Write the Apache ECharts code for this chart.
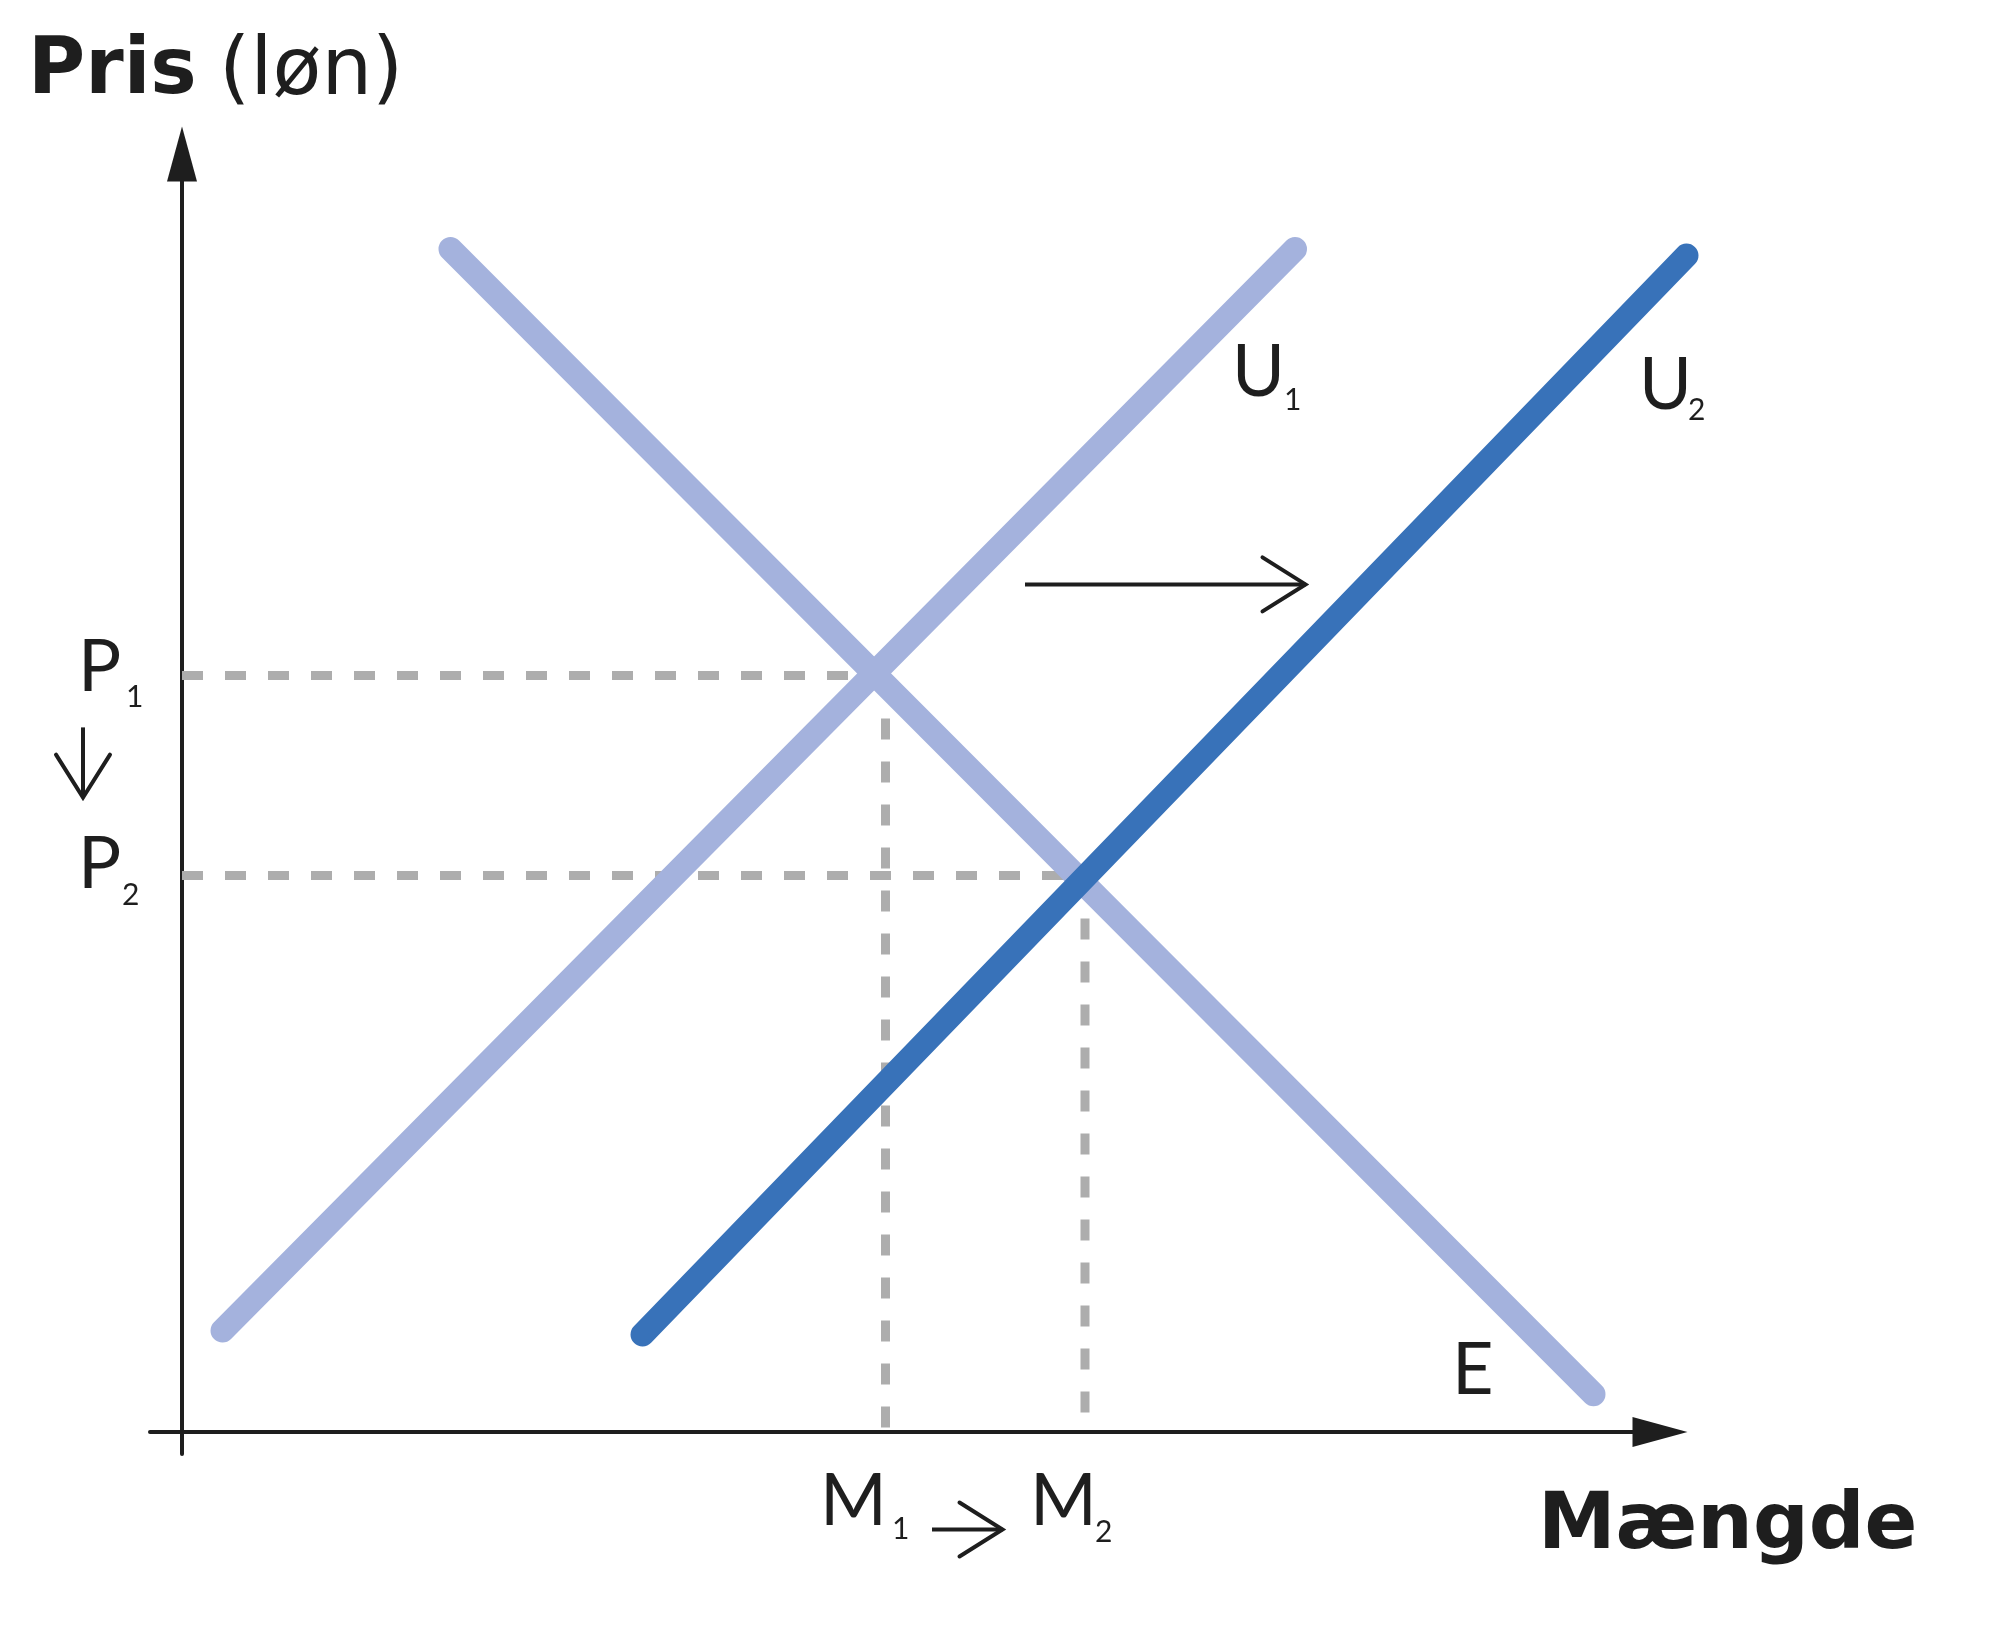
<!DOCTYPE html>
<html><head><meta charset="utf-8">
<script src="https://cdn.jsdelivr.net/npm/echarts@6/dist/echarts.min.js"></script>
<style>html,body{margin:0;padding:0;background:#fff}#c{width:2000px;height:1640px}</style>
</head><body><div id="c"></div>
<script>
// Curves (quantity, price) in arbitrary chart units
const demandE  = [[17.9, 91.0], [94.1, 2.9]];
const supplyU1 = [[2.7, 7.8], [74.2, 91.0]];
const supplyU2 = [[30.7, 7.5], [100.3, 90.5]];
// Equilibrium levels
const priceP1 = 58.2, priceP2 = 42.8;
const quantityM1 = 46.9, quantityM2 = 60.2;
// Annotation arrows [x0, y0, x1, y1]
const shiftArrows = [[56.2, 65.2, 74.9, 65.2], [-6.6, 54.2, -6.6, 48.8], [50.0, -7.5, 54.7, -7.5]];

const chart = echarts.init(document.getElementById('c'));
const ink = '#1e1e1e';
const light = '#a4b2dd', dark = '#3872b9', dash = '#adadad';
const dashStyle = {color: dash, width: 9, type: [21, 22], cap: 'butt'};
function dashSeries(data) {
  return {type: 'line', data: data, symbol: 'none', clip: false, silent: true, z: 1,
          lineStyle: dashStyle, animation: false};
}
function curveSeries(points, color, z) {
  return {type: 'custom', data: points, clip: false, silent: true, z: z, encode: {x: 0, y: 1},
    renderItem: function (params, api) {
      if (params.dataIndex !== 0) return null;
      const pts = points.map(function (p) { return api.coord(p); });
      return {type: 'polyline', shape: {points: pts},
              style: {stroke: color, lineWidth: 24, lineCap: 'round', lineJoin: 'round', fill: null}};
    }};
}
function txt(text, x, y, size, weight, family) {
  return {type: 'text', x: x, y: y, silent: true,
          style: {text: text, fill: ink, fontFamily: family || 'Lato', fontSize: size, fontWeight: weight,
                  verticalAlign: 'middle', align: 'left'}};
}
chart.setOption({
  animation: false,
  backgroundColor: '#fff',
  grid: {left: 150, right: 340, top: 154, bottom: 186, outerBoundsMode: 'none', containLabel: false},
  xAxis: {type: 'value', min: -32/15, max: 1478/15,
          axisLine: {onZero: true, lineStyle: {color: ink, width: 4}, symbol: ['none', 'triangle'], symbolSize: [30, 55]},
          axisTick: {show: false}, axisLabel: {show: false}, splitLine: {show: false}},
  yAxis: {type: 'value', min: -22/13, max: 1278/13,
          axisLine: {onZero: true, lineStyle: {color: ink, width: 4}, symbol: ['none', 'triangle'], symbolSize: [30, 55]},
          axisTick: {show: false}, axisLabel: {show: false}, splitLine: {show: false}},
  series: [
    dashSeries([[0, priceP1], [quantityM1, priceP1]]),
    dashSeries([[quantityM1, priceP1], [quantityM1, 0]]),
    dashSeries([[0, priceP2], [quantityM2, priceP2]]),
    dashSeries([[quantityM2, priceP2], [quantityM2, 0]]),
    curveSeries(demandE, light, 2),
    curveSeries(supplyU1, light, 2),
    curveSeries(supplyU2, dark, 3),
    {type: 'custom', data: shiftArrows, clip: false, silent: true, z: 4,
     encode: {x: [0, 2], y: [1, 3]},
     renderItem: function (params, api) {
       const p0 = api.coord([api.value(0), api.value(1)]);
       const p1 = api.coord([api.value(2), api.value(3)]);
       const dx = p1[0] - p0[0], dy = p1[1] - p0[1];
       const len = Math.hypot(dx, dy), ux = dx / len, uy = dy / len;
       const L = 43, W = 27;
       const bx = p1[0] - ux * L, by = p1[1] - uy * L;
       return {type: 'group', children: [
         {type: 'line', shape: {x1: p0[0], y1: p0[1], x2: p1[0], y2: p1[1]}, style: {stroke: ink, lineWidth: 4}},
         {type: 'polyline', shape: {points: [[bx - uy * W, by + ux * W], p1, [bx + uy * W, by - ux * W]]},
          style: {stroke: ink, lineWidth: 4, fill: null, lineCap: 'round'}}
       ]};
     }}
  ],
  graphic: [
    txt('Pris', 28, 73, 78, 700, 'DejaVu Sans'),
    txt('(løn)', 219, 73, 80, 400, 'DejaVu Sans'),
    txt('Mængde', 1538, 1528, 78, 700, 'DejaVu Sans'),
    txt('P', 78, 668, 72, 400), txt('1', 126, 697, 30, 400),
    txt('P', 78, 865, 72, 400), txt('2', 122, 895, 30, 400),
    txt('M', 820, 1502, 72, 400), txt('1', 892, 1529, 30, 400),
    txt('M', 1030, 1502, 72, 400), txt('2', 1095, 1532, 30, 400),
    txt('U', 1232, 373, 72, 400), txt('1', 1284, 400, 30, 400),
    txt('U', 1639, 386, 72, 400), txt('2', 1688, 410, 30, 400),
    txt('E', 1452, 1371, 72, 400)
  ]
});
</script></body></html>
